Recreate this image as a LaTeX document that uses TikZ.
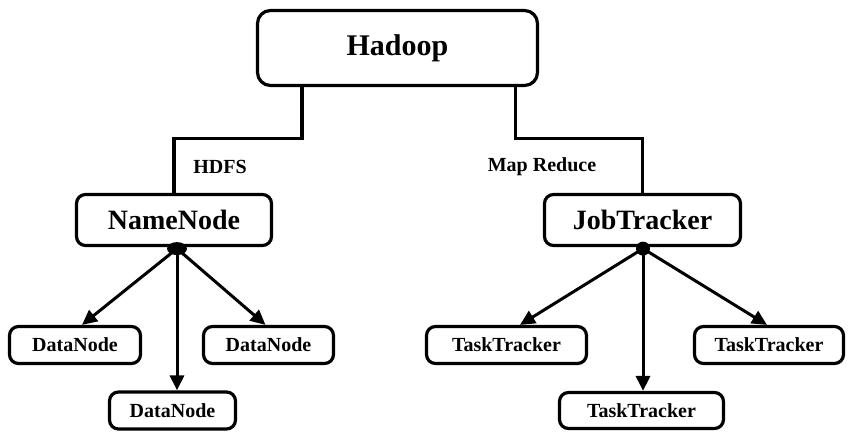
\documentclass[tikz,border=0pt]{standalone}
\usepackage{fontspec}
\setmainfont{Liberation Serif}
\usetikzlibrary{arrows.meta,shapes.geometric}

\begin{document}
\begin{tikzpicture}[x=1pt,y=-1pt,
    box/.style={draw,line width=3.2pt,rounded corners=9pt,inner sep=0pt,font=\fontsize{20}{22}\selectfont\bfseries},
    bigbox/.style={box,font=\fontsize{28}{30}\selectfont\bfseries},
    link/.style={line width=3.2pt},
    arrow/.style={line width=3pt,-{Triangle[length=15pt,width=14pt]}},
    lbl/.style={font=\fontsize{20}{22}\selectfont\bfseries},
    hub/.style={fill,inner sep=0pt}]
        \useasboundingbox (0,0) rectangle (848,433);
        % Top
        \node[bigbox,rounded corners=13pt,minimum width=280pt,minimum height=75pt,font=\fontsize{30}{32}\selectfont\bfseries] (hadoop) at (397.5,48) {Hadoop};
        % Middle level
        \node[bigbox,minimum width=195pt,minimum height=51pt] (namenode) at (174,220) {NameNode};
        \node[bigbox,minimum width=196pt,minimum height=51pt] (jobtracker) at (642.5,220) {JobTracker};
        \draw[link] (hadoop.south west) ++(46,0) -- ++(0,51) -| (namenode.north);
        \draw[link] (hadoop.south east) ++(-24,0) -- ++(0,51) -| (jobtracker.north);
        \node[lbl] (hdfs) at (220,167) {HDFS};
        \node[lbl] (mapred) at (542,167) {Map Reduce};
        % Leaves
        \node[box,minimum width=131pt,minimum height=37pt] (dnleft) at (75,345) {DataNode};
        \node[box,minimum width=130pt,minimum height=37pt] (dnright) at (268.5,345) {DataNode};
        \node[box,minimum width=126pt,minimum height=37pt] (dnmid) at (172.5,410.5) {DataNode};
        \node[box,minimum width=160pt,minimum height=37pt] (ttleft) at (506.5,345) {TaskTracker};
        \node[box,minimum width=164pt,minimum height=36pt] (ttmid) at (641.5,410.5) {TaskTracker};
        \node[box,minimum width=149pt,minimum height=37pt] (ttright) at (769,345) {TaskTracker};
        % Hubs
        \node[hub,ellipse,minimum width=20pt,minimum height=13pt] (nnhub) at ([xshift=3pt,yshift=-1.5pt]namenode.south) {};
        \node[hub,circle,minimum size=14pt] (jthub) at ([xshift=0.5pt,yshift=-1.5pt]jobtracker.south) {};
        \draw[arrow] (nnhub.center) -- ([xshift=7pt]dnleft.north);
        \draw[arrow] (nnhub.center) -- (nnhub.center |- dnmid.north);
        \draw[arrow] (nnhub.center) -- ([xshift=-3pt]dnright.north);
        \draw[arrow] (jthub.center) -- ([xshift=13.5pt]ttleft.north);
        \draw[arrow] (jthub.center) -- (jthub.center |- ttmid.north);
        \draw[arrow] (jthub.center) -- ([xshift=-2pt]ttright.north);
\end{tikzpicture}
\end{document}
